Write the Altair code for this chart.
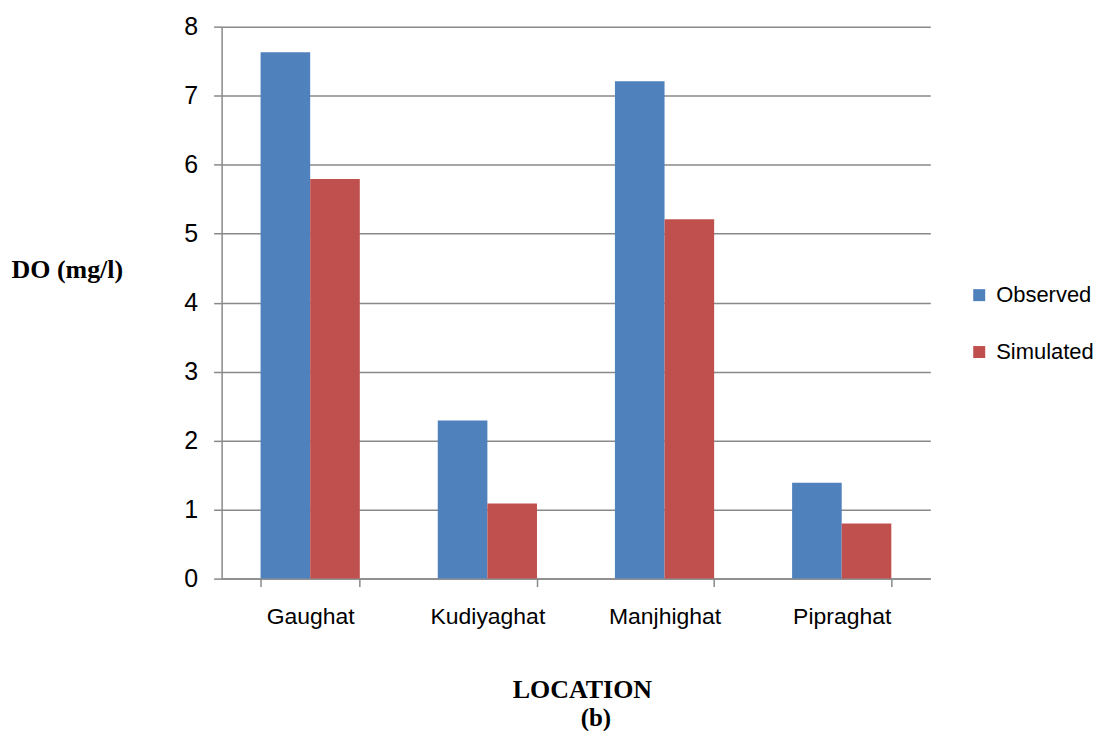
import altair as alt
import pandas as pd

locations = ["Gaughat", "Kudiyaghat", "Manjhighat", "Pipraghat"]
observed = [7.63, 2.29, 7.21, 1.39]
simulated = [5.79, 1.09, 5.21, 0.80]
series = ["Observed", "Simulated"]
colors = ["#4F81BD", "#C0504D"]
y_ticks = [0, 1, 2, 3, 4, 5, 6, 7, 8]
caption = ["(b)"]

rows = []
for loc, o, s in zip(locations, observed, simulated):
    rows.append({"location": loc, "series": "Observed", "value": o})
    rows.append({"location": loc, "series": "Simulated", "value": s})
df = pd.DataFrame(rows)

GRID = "#898989"
SANS = "Liberation Sans"
SERIF = "Liberation Serif"

bars = alt.Chart(df).mark_bar().encode(
    x=alt.X(
        "location:N",
        sort=locations,
        scale=alt.Scale(paddingInner=0.44, paddingOuter=0.22),
        axis=alt.Axis(
            title="LOCATION",
            labelAngle=0,
            tickBand="extent",
            tickSize=8,
            tickWidth=1.5,
            tickColor=GRID,
            domainColor=GRID,
            domainWidth=1.5,
            labelFont=SANS,
            labelFontSize=23,
            labelColor="#000000",
            labelPadding=19,
            titleFont=SERIF,
            titleFontWeight="bold",
            titleFontSize=26,
            titleColor="#000000",
            titleX=361,
            titleY=111,
            titleBaseline="middle",
        ),
    ),
    xOffset=alt.XOffset("series:N", sort=series, scale=alt.Scale(paddingInner=0, paddingOuter=0)),
    y=alt.Y(
        "value:Q",
        scale=alt.Scale(domain=[0, 8], nice=False),
        axis=alt.Axis(
            values=y_ticks,
            format="d",
            title="DO (mg/l)",
            titleAngle=0,
            titleX=-211,
            titleY=243,
            titleAlign="left",
            titleBaseline="middle",
            titleFont=SERIF,
            titleFontWeight="bold",
            titleFontSize=26,
            titleColor="#000000",
            grid=True,
            gridColor=GRID,
            gridWidth=1.5,
            tickSize=8,
            tickWidth=1.5,
            tickColor=GRID,
            domainColor=GRID,
            domainWidth=1.5,
            labelFont=SANS,
            labelFontSize=25,
            labelColor="#000000",
            labelPadding=16,
        ),
    ),
    color=alt.Color(
        "series:N",
        scale=alt.Scale(domain=series, range=colors),
        legend=alt.Legend(
            title=None,
            orient="none",
            legendX=748,
            legendY=258,
            symbolType="square",
            symbolSize=144,
            symbolStrokeWidth=0,
            labelFont=SANS,
            labelFontSize=22,
            labelColor="#000000",
            labelOffset=6,
            rowPadding=35,
            padding=0,
        ),
    ),
)

cap = alt.Chart(pd.DataFrame({"t": caption})).mark_text(
    font=SERIF, fontWeight="bold", fontSize=25, color="#000000", baseline="middle", align="center"
).encode(text="t:N", x=alt.value(375), y=alt.value(693))

chart = alt.layer(bars, cap).properties(
    width=710,
    height=553,
    padding={"left": 214, "top": 18, "right": 164, "bottom": 152},
    autosize=alt.AutoSizeParams(type="none"),
).configure_view(stroke=None).configure_axis(gridDash=[])

chart.save("out.html", embed_options={"renderer": "svg", "actions": False})
